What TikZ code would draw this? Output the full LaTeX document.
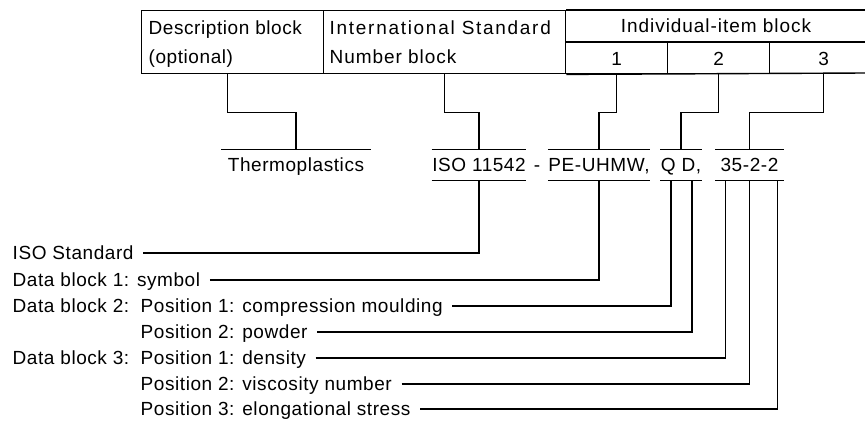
\documentclass[tikz,border=0pt]{standalone}
\usepackage{fontspec}
\setmainfont{Liberation Sans}[LetterSpace=3]
\begin{document}
\begin{tikzpicture}[x=1pt,y=-1pt,line width=1.4pt,
  every node/.style={font=\fontsize{19}{21}\selectfont,inner sep=0pt,text height=13.6pt,text depth=0pt},
  cellbox/.style={draw,anchor=north west,minimum width=#1,minimum height=63pt},
  subcell/.style={draw,anchor=north west,minimum width=#1,minimum height=31pt},
  codebox/.style={minimum width=#1,minimum height=30pt},
  lbl/.style={anchor=west}]
\useasboundingbox (0,0) rectangle (865,421);
% top table
\node[cellbox=182] (desc) at (141,10) {};
\node[cellbox=242] (intl) at (323,10) {};
\draw (intl.north east) -- (865,10);
\draw (intl.east |- 0,42) -- (865,42);
\draw (intl.south east) -- (865,73);
\node[subcell=102] (c1) at (565,42) {1};
\node[subcell=102] (c2) at (667,42) {2};
\node[anchor=north west,minimum width=108,minimum height=31] (c3) at (769,42) {3};
\node[lbl] (dt1) at (148,28) {Description block};
\node[lbl] (dt2) at (148,57) {(optional)};
\node[lbl] (it1) at (329,28) {\addfontfeatures{LetterSpace=9}International Standard};
\node[lbl] (it2) at (329,57) {\addfontfeatures{LetterSpace=5}Number block};
\node (indiv) at (716,26) {\addfontfeatures{LetterSpace=5}Individual-item block};
% designation
\node[codebox=148] (thermo) at (296,165) {Thermoplastics};
\node[codebox=88] (iso) at (479,165) {ISO 11542};
\node (dash) at (537,165) {-};
\node[codebox=94] (pe) at (599,165) {PE-UHMW,};
\node[codebox=36] (qd) at (681,165) {Q D,};
\node[codebox=67] (num) at (749.5,165) {35-2-2};
\draw (thermo.north west) -- (thermo.north east);
\foreach \n in {iso,pe,qd,num}{
  \draw (\n.north west) -- (\n.north east);
  \draw (\n.south west) -- (\n.south east);
}
% connectors from the table
\draw ([xshift=-5pt]desc.south) -- ++(0,38) -| (thermo.north);
\draw (intl.south) -- ++(0,38) -| (iso.north);
\draw (c1.south) -- ++(0,38) -| (pe.north);
\draw (c2.south) -- ++(0,38) -| (qd.north);
\draw (c3.south) -- ++(0,38) -| (num.north);
% bottom labels
\node[lbl] (la) at (12,253) {ISO Standard};
\node[lbl] (lb) at (12,280) {Data block 1: symbol};
\node[lbl] (lc0) at (12,306) {Data block 2:};
\node[lbl] (lc) at (140,306) {Position 1: compression moulding};
\node[lbl] (ld) at (140,332) {Position 2: powder};
\node[lbl] (le0) at (12,358) {Data block 3:};
\node[lbl] (le) at (140,358) {Position 1: density};
\node[lbl] (lf) at (140,384) {Position 2: viscosity number};
\node[lbl] (lg) at (140,409) {Position 3: elongational stress};
\draw ([xshift=9pt]la.east) -| (iso.south);
\draw ([xshift=9pt]lb.east) -| (pe.south);
\draw ([xshift=9pt]lc.east) -| ([xshift=-10pt]qd.south);
\draw ([xshift=9pt]ld.east) -| ([xshift=11pt]qd.south);
\draw ([xshift=9pt]le.east) -| ([xshift=-24pt]num.south);
\draw ([xshift=9pt]lf.east) -| (num.south);
\draw ([xshift=9pt]lg.east) -| ([xshift=28pt]num.south);
\end{tikzpicture}
\end{document}
